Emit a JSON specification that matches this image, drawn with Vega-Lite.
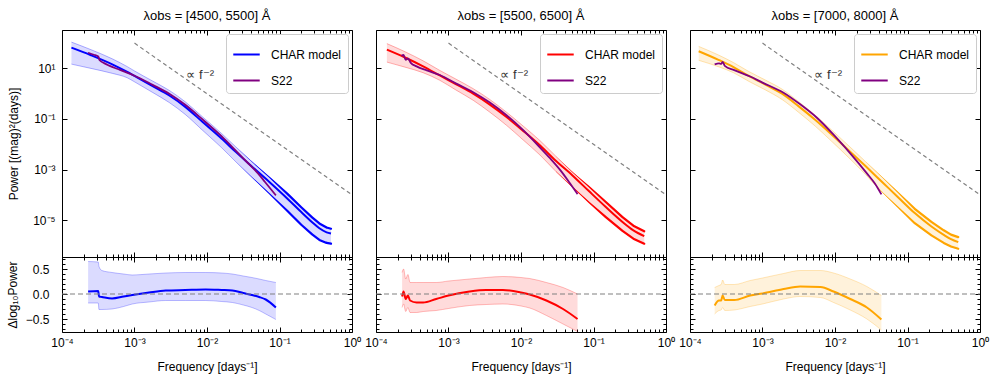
{
"$schema": "https://vega.github.io/schema/vega-lite/v6.json",
"background": "white",
"padding": {"left": 5, "top": 9, "right": 5, "bottom": 5},
"datasets": {
"m1": [
{"f":1.349e-4,"c":66.07,"hi":109.6,"lo":14.79},
{"f":2.512e-4,"c":33.11,"hi":54.95,"lo":10.0},
{"f":5.012e-4,"c":14.13,"hi":23.44,"lo":6.31},
{"f":7.943e-4,"c":7.244,"hi":11.75,"lo":4.266},
{"f":1e-3,"c":5.012,"hi":7.943,"lo":2.951},
{"f":1.778e-3,"c":1.995,"hi":3.162,"lo":1.122},
{"f":3.02e-3,"c":0.8511,"hi":1.349,"lo":0.4467},
{"f":5.012e-3,"c":0.302,"hi":0.4786,"lo":0.1514},
{"f":8.71e-3,"c":0.07586,"hi":0.1202,"lo":0.03548},
{"f":0.01585,"c":0.01698,"hi":0.02692,"lo":0.007413},
{"f":0.02512,"c":0.004898,"hi":0.007762,"lo":0.001995},
{"f":0.03981,"c":0.001479,"hi":0.002291,"lo":5.623e-4},
{"f":0.07244,"c":3.236e-4,"hi":5.012e-4,"lo":1.122e-4},
{"f":0.1288,"c":7.079e-5,"hi":1.096e-4,"lo":2.291e-5},
{"f":0.1995,"c":2.089e-5,"hi":3.236e-5,"lo":6.607e-6},
{"f":0.2818,"c":8.318e-6,"hi":1.288e-5,"lo":2.754e-6},
{"f":0.3548,"c":4.786e-6,"hi":7.413e-6,"lo":1.66e-6},
{"f":0.4467,"c":3.311e-6,"hi":5.129e-6,"lo":1.259e-6},
{"f":0.5129,"c":2.951e-6,"hi":4.571e-6,"lo":1.175e-6}
],
"s1": [
{"f":2.291e-4,"p":41.69},{"f":2.754e-4,"p":34.67},{"f":3.162e-4,"p":29.51},{"f":3.311e-4,"p":20.89},
{"f":3.802e-4,"p":16.22},{"f":4.467e-4,"p":12.88},{"f":6.31e-4,"p":8.71},{"f":1e-3,"p":5.129},
{"f":1.778e-3,"p":2.239},{"f":3.02e-3,"p":1.0},{"f":5.012e-3,"p":0.3631},{"f":8.71e-3,"p":0.0955},
{"f":0.01585,"p":0.02089},{"f":0.02512,"p":0.005495},{"f":0.03548,"p":0.001995},{"f":0.05012,"p":7.244e-4},
{"f":0.0631,"p":3.236e-4},{"f":0.08913,"p":9.55e-5}
],
"r1": [
{"f":2.291e-4,"d":0.05,"hi":0.65,"lo":-0.18},
{"f":3.162e-4,"d":0.06,"hi":0.64,"lo":-0.18},
{"f":3.236e-4,"d":-0.05,"hi":0.55,"lo":-0.31},
{"f":3.548e-4,"d":-0.06,"hi":0.47,"lo":-0.31},
{"f":4.898e-4,"d":-0.09,"hi":0.43,"lo":-0.30},
{"f":7.079e-4,"d":-0.05,"hi":0.40,"lo":-0.25},
{"f":9.333e-4,"d":-0.02,"hi":0.38,"lo":-0.20},
{"f":1.585e-3,"d":0.03,"hi":0.40,"lo":-0.16},
{"f":2.692e-3,"d":0.07,"hi":0.42,"lo":-0.13},
{"f":5.012e-3,"d":0.08,"hi":0.43,"lo":-0.13},
{"f":9.55e-3,"d":0.09,"hi":0.43,"lo":-0.13},
{"f":0.01585,"d":0.08,"hi":0.42,"lo":-0.15},
{"f":0.02239,"d":0.07,"hi":0.40,"lo":-0.17},
{"f":0.03162,"d":0.02,"hi":0.36,"lo":-0.22},
{"f":0.04169,"d":-0.02,"hi":0.33,"lo":-0.27},
{"f":0.05248,"d":-0.06,"hi":0.30,"lo":-0.33},
{"f":0.06457,"d":-0.11,"hi":0.27,"lo":-0.40},
{"f":0.08913,"d":-0.27,"hi":0.23,"lo":-0.51}
],
"m2": [
{"f":1.413e-4,"c":54.95,"hi":95.5,"lo":17.78},
{"f":2.512e-4,"c":26.92,"hi":45.71,"lo":11.22},
{"f":4.467e-4,"c":12.02,"hi":19.95,"lo":6.761},
{"f":7.586e-4,"c":5.248,"hi":8.318,"lo":3.388},
{"f":1.259e-3,"c":2.399,"hi":3.802,"lo":1.413},
{"f":2.188e-3,"c":1.0,"hi":1.585,"lo":0.5495},
{"f":3.715e-3,"c":0.3715,"hi":0.5888,"lo":0.1862},
{"f":6.31e-3,"c":0.1202,"hi":0.1862,"lo":0.05623},
{"f":0.01072,"c":0.03388,"hi":0.05248,"lo":0.01479},
{"f":0.0182,"c":0.00912,"hi":0.01413,"lo":0.003802},
{"f":0.0302,"c":0.002239,"hi":0.003388,"lo":8.511e-4},
{"f":0.05129,"c":5.888e-4,"hi":7.943e-4,"lo":2.042e-4},
{"f":0.0871,"c":1.38e-4,"hi":2.089e-4,"lo":5.012e-5},
{"f":0.1479,"c":3.311e-5,"hi":5.248e-5,"lo":1.318e-5},
{"f":0.2512,"c":8.511e-6,"hi":1.318e-5,"lo":3.802e-6},
{"f":0.3548,"c":3.981e-6,"hi":6.026e-6,"lo":1.862e-6},
{"f":0.5012,"c":2.344e-6,"hi":3.631e-6,"lo":1.175e-6}
],
"s2": [
{"f":2.239e-4,"p":31.62},{"f":2.399e-4,"p":33.88},{"f":2.57e-4,"p":21.88},{"f":2.754e-4,"p":25.12},
{"f":3.02e-4,"p":16.6},{"f":3.631e-4,"p":12.02},{"f":5.012e-4,"p":8.318},{"f":7.586e-4,"p":5.495},
{"f":1.259e-3,"p":2.57},{"f":2.188e-3,"p":1.148},{"f":3.715e-3,"p":0.4467},{"f":6.31e-3,"p":0.1413},
{"f":0.01072,"p":0.03631},{"f":0.0182,"p":0.007586},{"f":0.02512,"p":0.002818},{"f":0.03548,"p":8.913e-4},
{"f":0.04677,"p":3.02e-4},{"f":0.06026,"p":1.072e-4}
],
"r2": [
{"f":2.291e-4,"d":-0.05,"hi":0.43,"lo":-0.27},
{"f":2.399e-4,"d":0.05,"hi":0.50,"lo":-0.20},
{"f":2.57e-4,"d":-0.10,"hi":0.30,"lo":-0.35},
{"f":2.754e-4,"d":-0.03,"hi":0.39,"lo":-0.27},
{"f":2.951e-4,"d":-0.13,"hi":0.23,"lo":-0.37},
{"f":3.631e-4,"d":-0.17,"hi":0.23,"lo":-0.37},
{"f":4.467e-4,"d":-0.17,"hi":0.23,"lo":-0.35},
{"f":6.761e-4,"d":-0.10,"hi":0.23,"lo":-0.33},
{"f":1e-3,"d":-0.03,"hi":0.26,"lo":-0.29},
{"f":1.95e-3,"d":0.05,"hi":0.30,"lo":-0.23},
{"f":3.311e-3,"d":0.08,"hi":0.33,"lo":-0.21},
{"f":5.623e-3,"d":0.08,"hi":0.35,"lo":-0.20},
{"f":0.01,"d":0.03,"hi":0.33,"lo":-0.24},
{"f":0.01318,"d":-0.01,"hi":0.31,"lo":-0.28},
{"f":0.02239,"d":-0.13,"hi":0.23,"lo":-0.43},
{"f":0.03802,"d":-0.30,"hi":0.13,"lo":-0.60},
{"f":0.06026,"d":-0.50,"hi":0.0,"lo":-0.75}
],
"m3": [
{"f":1.318e-4,"c":47.86,"hi":74.13,"lo":20.89},
{"f":2.512e-4,"c":21.38,"hi":33.11,"lo":11.48},
{"f":3.981e-4,"c":11.22,"hi":16.98,"lo":6.761},
{"f":6.457e-4,"c":5.012,"hi":7.586,"lo":3.09},
{"f":1.096e-3,"c":2.291,"hi":3.467,"lo":1.413},
{"f":1.862e-3,"c":1.0,"hi":1.514,"lo":0.5888},
{"f":3.162e-3,"c":0.3162,"hi":0.4786,"lo":0.182},
{"f":5.37e-3,"c":0.0912,"hi":0.138,"lo":0.05129},
{"f":9.12e-3,"c":0.02344,"hi":0.03548,"lo":0.01259},
{"f":0.01549,"c":0.005754,"hi":0.00871,"lo":0.002951},
{"f":0.0263,"c":0.00138,"hi":0.002089,"lo":6.457e-4},
{"f":0.04467,"c":3.236e-4,"hi":5.012e-4,"lo":1.288e-4},
{"f":0.07586,"c":7.586e-5,"hi":1.175e-4,"lo":3.02e-5},
{"f":0.1259,"c":1.905e-5,"hi":2.818e-5,"lo":7.586e-6},
{"f":0.2138,"c":5.623e-6,"hi":8.511e-6,"lo":2.512e-6},
{"f":0.3162,"c":2.63e-6,"hi":3.981e-6,"lo":1.259e-6},
{"f":0.3981,"c":1.778e-6,"hi":2.692e-6,"lo":9.12e-7},
{"f":0.5012,"c":1.349e-6,"hi":2.138e-6,"lo":7.413e-7}
],
"s3": [
{"f":2.188e-4,"p":14.45},{"f":2.512e-4,"p":15.85},{"f":2.692e-4,"p":15.14},{"f":2.818e-4,"p":18.2},
{"f":3.02e-4,"p":12.59},{"f":4.074e-4,"p":8.511},{"f":6.761e-4,"p":4.786},{"f":1e-3,"p":2.754},
{"f":1.95e-3,"p":1.096},{"f":3.311e-3,"p":0.3802},{"f":5.623e-3,"p":0.1122},{"f":9.55e-3,"p":0.02399},
{"f":0.01622,"p":0.004365},{"f":0.02754,"p":7.079e-4},{"f":0.03548,"p":2.818e-4},{"f":0.04365,"p":1.047e-4}
],
"r3": [
{"f":2.188e-4,"d":-0.23,"hi":0.13,"lo":-0.40},
{"f":2.512e-4,"d":-0.13,"hi":0.17,"lo":-0.33},
{"f":2.692e-4,"d":-0.13,"hi":0.19,"lo":-0.32},
{"f":2.818e-4,"d":-0.03,"hi":0.28,"lo":-0.27},
{"f":3.02e-4,"d":-0.12,"hi":0.19,"lo":-0.33},
{"f":4.074e-4,"d":-0.12,"hi":0.19,"lo":-0.32},
{"f":6.761e-4,"d":-0.03,"hi":0.27,"lo":-0.25},
{"f":1e-3,"d":0.01,"hi":0.32,"lo":-0.20},
{"f":1.95e-3,"d":0.10,"hi":0.41,"lo":-0.10},
{"f":3.311e-3,"d":0.15,"hi":0.47,"lo":-0.05},
{"f":6.31e-3,"d":0.14,"hi":0.47,"lo":-0.07},
{"f":9.55e-3,"d":0.05,"hi":0.42,"lo":-0.17},
{"f":0.01622,"d":-0.10,"hi":0.30,"lo":-0.32},
{"f":0.02754,"d":-0.27,"hi":0.15,"lo":-0.50},
{"f":0.04365,"d":-0.51,"hi":-0.03,"lo":-0.72}
],
"pl": [{"f":0.001,"p":100},{"f":1,"p":0.0001}],
"lbl": [{"f":0.0052,"p":5.5,"t":"∝ f⁻²"}],
"zero": [{"v":0}]
},
"columns": 3,
"spacing": {"row": 0, "column": 24},
"bounds": "flush",
"resolve": {"scale": {"color": "independent"}},
"concat": [
{"width":290,"height":227,
 "title":{"text":"λobs = [4500,  5500] Å"},
 "resolve":{"axis":{"x":"independent","y":"independent"}},
 "layer":[
  {"data":{"name":"m1"},"mark":{"type":"area","color":"#0000ff","opacity":0.14},
   "encoding":{"x":{"field":"f","type":"quantitative","scale":{"type":"log","domain":[0.0001,1],"nice":false},"axis":{"orient":"bottom","values":[0.0001,0.001,0.01,0.1,1],"tickSize":-5,"labels":false,"title":null}},
   "y":{"field":"lo","type":"quantitative","scale":{"type":"log","domain":[3.5e-7,330],"nice":false},"axis":{"orient":"left","values":[10,0.1,0.001,0.00001],"ticks":false,"labelExpr":"datum.value > 1 ? '10¹' : datum.value > 0.01 ? '10⁻¹' : datum.value > 0.0001 ? '10⁻³' : '10⁻⁵'","labelPadding":7,"title":"Power [(mag)²(days)]","titlePadding":12}},
   "y2":{"field":"hi"}}},
  {"data":{"name":"m1"},"mark":{"type":"line","color":"#0000ff","opacity":0.3,"strokeWidth":1},
   "encoding":{"x":{"field":"f","type":"quantitative","scale":{"type":"log","domain":[0.0001,1],"nice":false},"axis":{"orient":"top","values":[0.0001,0.001,0.01,0.1,1],"tickSize":-5,"labels":false,"title":null}},
   "y":{"field":"hi","type":"quantitative","scale":{"type":"log","domain":[3.5e-7,330],"nice":false},"axis":{"orient":"left","values":[10,0.1,0.001,0.00001],"tickSize":-5,"labels":false,"title":null}}}},
  {"data":{"name":"m1"},"mark":{"type":"line","color":"#0000ff","opacity":0.3,"strokeWidth":1},
   "encoding":{"x":{"field":"f","type":"quantitative","scale":{"type":"log","domain":[0.0001,1],"nice":false},"axis":{"orient":"bottom","values":[0.0002,0.0003,0.0004,0.0005,0.0006,0.0007,0.0008,0.0009,0.002,0.003,0.004,0.005,0.006,0.007,0.008,0.009,0.02,0.03,0.04,0.05,0.06,0.07,0.08,0.09,0.2,0.3,0.4,0.5,0.6,0.7,0.8,0.9],"tickSize":-3,"labels":false,"title":null}},
   "y":{"field":"lo","type":"quantitative","scale":{"type":"log","domain":[3.5e-7,330],"nice":false},"axis":{"orient":"right","values":[10,0.1,0.001,0.00001],"tickSize":-5,"labels":false,"title":null}}}},
  {"data":{"name":"m1"},"transform":[{"filter":"datum.f >= 0.025"}],"mark":{"type":"trail","color":"#0000ff"},
   "encoding":{"x":{"field":"f","type":"quantitative","scale":{"type":"log","domain":[0.0001,1],"nice":false},"axis":{"orient":"top","values":[0.0002,0.0003,0.0004,0.0005,0.0006,0.0007,0.0008,0.0009,0.002,0.003,0.004,0.005,0.006,0.007,0.008,0.009,0.02,0.03,0.04,0.05,0.06,0.07,0.08,0.09,0.2,0.3,0.4,0.5,0.6,0.7,0.8,0.9],"tickSize":-3,"labels":false,"title":null}},
   "y":{"field":"hi","type":"quantitative","scale":{"type":"log","domain":[3.5e-7,330],"nice":false},"axis":null},
   "size":{"field":"f","type":"quantitative","scale":{"type":"linear","domain":[0.025,0.12],"range":[0,2.2],"clamp":true,"zero":false,"nice":false},"legend":null}}},
  {"data":{"name":"m1"},"transform":[{"filter":"datum.f >= 0.025"}],"mark":{"type":"trail","color":"#0000ff"},
   "encoding":{"x":{"field":"f","type":"quantitative","scale":{"type":"log","domain":[0.0001,1],"nice":false},"axis":null},
   "y":{"field":"lo","type":"quantitative","scale":{"type":"log","domain":[3.5e-7,330],"nice":false},"axis":null},
   "size":{"field":"f","type":"quantitative","scale":{"type":"linear","domain":[0.025,0.12],"range":[0,2.2],"clamp":true,"zero":false,"nice":false},"legend":null}}},
  {"data":{"name":"m1"},"mark":{"type":"line","strokeWidth":2},
   "encoding":{"x":{"field":"f","type":"quantitative","scale":{"type":"log","domain":[0.0001,1],"nice":false},"axis":null},
   "y":{"field":"c","type":"quantitative","scale":{"type":"log","domain":[3.5e-7,330],"nice":false},"axis":null},
   "color":{"datum":"CHAR model","type":"nominal","scale":{"domain":["CHAR model","S22"],"range":["#0000ff","#800080"]},"legend":{"title":null,"orient":"top-right","offset":4,"symbolType":"stroke","symbolSize":700,"symbolStrokeWidth":2,"labelFontSize":12,"labelColor":"black","padding":6,"rowPadding":5,"labelOffset":10,"fillColor":"white","strokeColor":"#cccccc","cornerRadius":3}}}},
  {"data":{"name":"s1"},"mark":{"type":"line","strokeWidth":1.8},
   "encoding":{"x":{"field":"f","type":"quantitative","scale":{"type":"log","domain":[0.0001,1],"nice":false},"axis":null},
   "y":{"field":"p","type":"quantitative","scale":{"type":"log","domain":[3.5e-7,330],"nice":false},"axis":null},
   "color":{"datum":"S22","type":"nominal","scale":{"domain":["CHAR model","S22"],"range":["#0000ff","#800080"]},"legend":{"title":null,"orient":"top-right","offset":4,"symbolType":"stroke","symbolSize":700,"symbolStrokeWidth":2,"labelFontSize":12,"labelColor":"black","padding":6,"rowPadding":5,"labelOffset":10,"fillColor":"white","strokeColor":"#cccccc","cornerRadius":3}}}},
  {"data":{"name":"pl"},"mark":{"type":"line","color":"#808080","strokeWidth":1.2,"strokeDash":[4,3],"interpolate":"linear"},
   "encoding":{"x":{"field":"f","type":"quantitative","scale":{"type":"log","domain":[0.0001,1],"nice":false},"axis":null},
   "y":{"field":"p","type":"quantitative","scale":{"type":"log","domain":[3.5e-7,330],"nice":false},"axis":null}}},
  {"data":{"name":"lbl"},"mark":{"type":"text","align":"left","baseline":"middle","fontSize":13,"color":"#333333"},
   "encoding":{"x":{"field":"f","type":"quantitative","scale":{"type":"log","domain":[0.0001,1],"nice":false},"axis":null},
   "y":{"field":"p","type":"quantitative","scale":{"type":"log","domain":[3.5e-7,330],"nice":false},"axis":null},
   "text":{"field":"t"}}}
 ]},
{"width":290,"height":227,
 "title":{"text":"λobs = [5500,  6500] Å"},
 "resolve":{"axis":{"x":"independent","y":"independent"}},
 "layer":[
  {"data":{"name":"m2"},"mark":{"type":"area","color":"#ff0000","opacity":0.14},
   "encoding":{"x":{"field":"f","type":"quantitative","scale":{"type":"log","domain":[0.0001,1],"nice":false},"axis":{"orient":"bottom","values":[0.0001,0.001,0.01,0.1,1],"tickSize":-5,"labels":false,"title":null}},
   "y":{"field":"lo","type":"quantitative","scale":{"type":"log","domain":[3.5e-7,330],"nice":false},"axis":{"orient":"left","values":[10,0.1,0.001,0.00001],"tickSize":-5,"labels":false,"title":null}},
   "y2":{"field":"hi"}}},
  {"data":{"name":"m2"},"mark":{"type":"line","color":"#ff0000","opacity":0.3,"strokeWidth":1},
   "encoding":{"x":{"field":"f","type":"quantitative","scale":{"type":"log","domain":[0.0001,1],"nice":false},"axis":{"orient":"top","values":[0.0001,0.001,0.01,0.1,1],"tickSize":-5,"labels":false,"title":null}},
   "y":{"field":"hi","type":"quantitative","scale":{"type":"log","domain":[3.5e-7,330],"nice":false},"axis":{"orient":"right","values":[10,0.1,0.001,0.00001],"tickSize":-5,"labels":false,"title":null}}}},
  {"data":{"name":"m2"},"mark":{"type":"line","color":"#ff0000","opacity":0.3,"strokeWidth":1},
   "encoding":{"x":{"field":"f","type":"quantitative","scale":{"type":"log","domain":[0.0001,1],"nice":false},"axis":{"orient":"bottom","values":[0.0002,0.0003,0.0004,0.0005,0.0006,0.0007,0.0008,0.0009,0.002,0.003,0.004,0.005,0.006,0.007,0.008,0.009,0.02,0.03,0.04,0.05,0.06,0.07,0.08,0.09,0.2,0.3,0.4,0.5,0.6,0.7,0.8,0.9],"tickSize":-3,"labels":false,"title":null}},
   "y":{"field":"lo","type":"quantitative","scale":{"type":"log","domain":[3.5e-7,330],"nice":false},"axis":null}}},
  {"data":{"name":"m2"},"transform":[{"filter":"datum.f >= 0.025"}],"mark":{"type":"trail","color":"#ff0000"},
   "encoding":{"x":{"field":"f","type":"quantitative","scale":{"type":"log","domain":[0.0001,1],"nice":false},"axis":{"orient":"top","values":[0.0002,0.0003,0.0004,0.0005,0.0006,0.0007,0.0008,0.0009,0.002,0.003,0.004,0.005,0.006,0.007,0.008,0.009,0.02,0.03,0.04,0.05,0.06,0.07,0.08,0.09,0.2,0.3,0.4,0.5,0.6,0.7,0.8,0.9],"tickSize":-3,"labels":false,"title":null}},
   "y":{"field":"hi","type":"quantitative","scale":{"type":"log","domain":[3.5e-7,330],"nice":false},"axis":null},
   "size":{"field":"f","type":"quantitative","scale":{"type":"linear","domain":[0.025,0.12],"range":[0,2.2],"clamp":true,"zero":false,"nice":false},"legend":null}}},
  {"data":{"name":"m2"},"transform":[{"filter":"datum.f >= 0.025"}],"mark":{"type":"trail","color":"#ff0000"},
   "encoding":{"x":{"field":"f","type":"quantitative","scale":{"type":"log","domain":[0.0001,1],"nice":false},"axis":null},
   "y":{"field":"lo","type":"quantitative","scale":{"type":"log","domain":[3.5e-7,330],"nice":false},"axis":null},
   "size":{"field":"f","type":"quantitative","scale":{"type":"linear","domain":[0.025,0.12],"range":[0,2.2],"clamp":true,"zero":false,"nice":false},"legend":null}}},
  {"data":{"name":"m2"},"mark":{"type":"line","strokeWidth":2},
   "encoding":{"x":{"field":"f","type":"quantitative","scale":{"type":"log","domain":[0.0001,1],"nice":false},"axis":null},
   "y":{"field":"c","type":"quantitative","scale":{"type":"log","domain":[3.5e-7,330],"nice":false},"axis":null},
   "color":{"datum":"CHAR model","type":"nominal","scale":{"domain":["CHAR model","S22"],"range":["#ff0000","#800080"]},"legend":{"title":null,"orient":"top-right","offset":4,"symbolType":"stroke","symbolSize":700,"symbolStrokeWidth":2,"labelFontSize":12,"labelColor":"black","padding":6,"rowPadding":5,"labelOffset":10,"fillColor":"white","strokeColor":"#cccccc","cornerRadius":3}}}},
  {"data":{"name":"s2"},"mark":{"type":"line","strokeWidth":1.8},
   "encoding":{"x":{"field":"f","type":"quantitative","scale":{"type":"log","domain":[0.0001,1],"nice":false},"axis":null},
   "y":{"field":"p","type":"quantitative","scale":{"type":"log","domain":[3.5e-7,330],"nice":false},"axis":null},
   "color":{"datum":"S22","type":"nominal","scale":{"domain":["CHAR model","S22"],"range":["#ff0000","#800080"]},"legend":{"title":null,"orient":"top-right","offset":4,"symbolType":"stroke","symbolSize":700,"symbolStrokeWidth":2,"labelFontSize":12,"labelColor":"black","padding":6,"rowPadding":5,"labelOffset":10,"fillColor":"white","strokeColor":"#cccccc","cornerRadius":3}}}},
  {"data":{"name":"pl"},"mark":{"type":"line","color":"#808080","strokeWidth":1.2,"strokeDash":[4,3],"interpolate":"linear"},
   "encoding":{"x":{"field":"f","type":"quantitative","scale":{"type":"log","domain":[0.0001,1],"nice":false},"axis":null},
   "y":{"field":"p","type":"quantitative","scale":{"type":"log","domain":[3.5e-7,330],"nice":false},"axis":null}}},
  {"data":{"name":"lbl"},"mark":{"type":"text","align":"left","baseline":"middle","fontSize":13,"color":"#333333"},
   "encoding":{"x":{"field":"f","type":"quantitative","scale":{"type":"log","domain":[0.0001,1],"nice":false},"axis":null},
   "y":{"field":"p","type":"quantitative","scale":{"type":"log","domain":[3.5e-7,330],"nice":false},"axis":null},
   "text":{"field":"t"}}}
 ]},
{"width":290,"height":227,
 "title":{"text":"λobs = [7000,  8000] Å"},
 "resolve":{"axis":{"x":"independent","y":"independent"}},
 "layer":[
  {"data":{"name":"m3"},"mark":{"type":"area","color":"#ffa500","opacity":0.14},
   "encoding":{"x":{"field":"f","type":"quantitative","scale":{"type":"log","domain":[0.0001,1],"nice":false},"axis":{"orient":"bottom","values":[0.0001,0.001,0.01,0.1,1],"tickSize":-5,"labels":false,"title":null}},
   "y":{"field":"lo","type":"quantitative","scale":{"type":"log","domain":[3.5e-7,330],"nice":false},"axis":{"orient":"left","values":[10,0.1,0.001,0.00001],"tickSize":-5,"labels":false,"title":null}},
   "y2":{"field":"hi"}}},
  {"data":{"name":"m3"},"mark":{"type":"line","color":"#ffa500","opacity":0.3,"strokeWidth":1},
   "encoding":{"x":{"field":"f","type":"quantitative","scale":{"type":"log","domain":[0.0001,1],"nice":false},"axis":{"orient":"top","values":[0.0001,0.001,0.01,0.1,1],"tickSize":-5,"labels":false,"title":null}},
   "y":{"field":"hi","type":"quantitative","scale":{"type":"log","domain":[3.5e-7,330],"nice":false},"axis":{"orient":"right","values":[10,0.1,0.001,0.00001],"tickSize":-5,"labels":false,"title":null}}}},
  {"data":{"name":"m3"},"mark":{"type":"line","color":"#ffa500","opacity":0.3,"strokeWidth":1},
   "encoding":{"x":{"field":"f","type":"quantitative","scale":{"type":"log","domain":[0.0001,1],"nice":false},"axis":{"orient":"bottom","values":[0.0002,0.0003,0.0004,0.0005,0.0006,0.0007,0.0008,0.0009,0.002,0.003,0.004,0.005,0.006,0.007,0.008,0.009,0.02,0.03,0.04,0.05,0.06,0.07,0.08,0.09,0.2,0.3,0.4,0.5,0.6,0.7,0.8,0.9],"tickSize":-3,"labels":false,"title":null}},
   "y":{"field":"lo","type":"quantitative","scale":{"type":"log","domain":[3.5e-7,330],"nice":false},"axis":null}}},
  {"data":{"name":"m3"},"transform":[{"filter":"datum.f >= 0.025"}],"mark":{"type":"trail","color":"#ffa500"},
   "encoding":{"x":{"field":"f","type":"quantitative","scale":{"type":"log","domain":[0.0001,1],"nice":false},"axis":{"orient":"top","values":[0.0002,0.0003,0.0004,0.0005,0.0006,0.0007,0.0008,0.0009,0.002,0.003,0.004,0.005,0.006,0.007,0.008,0.009,0.02,0.03,0.04,0.05,0.06,0.07,0.08,0.09,0.2,0.3,0.4,0.5,0.6,0.7,0.8,0.9],"tickSize":-3,"labels":false,"title":null}},
   "y":{"field":"hi","type":"quantitative","scale":{"type":"log","domain":[3.5e-7,330],"nice":false},"axis":null},
   "size":{"field":"f","type":"quantitative","scale":{"type":"linear","domain":[0.025,0.12],"range":[0,2.2],"clamp":true,"zero":false,"nice":false},"legend":null}}},
  {"data":{"name":"m3"},"transform":[{"filter":"datum.f >= 0.025"}],"mark":{"type":"trail","color":"#ffa500"},
   "encoding":{"x":{"field":"f","type":"quantitative","scale":{"type":"log","domain":[0.0001,1],"nice":false},"axis":null},
   "y":{"field":"lo","type":"quantitative","scale":{"type":"log","domain":[3.5e-7,330],"nice":false},"axis":null},
   "size":{"field":"f","type":"quantitative","scale":{"type":"linear","domain":[0.025,0.12],"range":[0,2.2],"clamp":true,"zero":false,"nice":false},"legend":null}}},
  {"data":{"name":"m3"},"mark":{"type":"line","strokeWidth":2},
   "encoding":{"x":{"field":"f","type":"quantitative","scale":{"type":"log","domain":[0.0001,1],"nice":false},"axis":null},
   "y":{"field":"c","type":"quantitative","scale":{"type":"log","domain":[3.5e-7,330],"nice":false},"axis":null},
   "color":{"datum":"CHAR model","type":"nominal","scale":{"domain":["CHAR model","S22"],"range":["#ffa500","#800080"]},"legend":{"title":null,"orient":"top-right","offset":4,"symbolType":"stroke","symbolSize":700,"symbolStrokeWidth":2,"labelFontSize":12,"labelColor":"black","padding":6,"rowPadding":5,"labelOffset":10,"fillColor":"white","strokeColor":"#cccccc","cornerRadius":3}}}},
  {"data":{"name":"s3"},"mark":{"type":"line","strokeWidth":1.8},
   "encoding":{"x":{"field":"f","type":"quantitative","scale":{"type":"log","domain":[0.0001,1],"nice":false},"axis":null},
   "y":{"field":"p","type":"quantitative","scale":{"type":"log","domain":[3.5e-7,330],"nice":false},"axis":null},
   "color":{"datum":"S22","type":"nominal","scale":{"domain":["CHAR model","S22"],"range":["#ffa500","#800080"]},"legend":{"title":null,"orient":"top-right","offset":4,"symbolType":"stroke","symbolSize":700,"symbolStrokeWidth":2,"labelFontSize":12,"labelColor":"black","padding":6,"rowPadding":5,"labelOffset":10,"fillColor":"white","strokeColor":"#cccccc","cornerRadius":3}}}},
  {"data":{"name":"pl"},"mark":{"type":"line","color":"#808080","strokeWidth":1.2,"strokeDash":[4,3],"interpolate":"linear"},
   "encoding":{"x":{"field":"f","type":"quantitative","scale":{"type":"log","domain":[0.0001,1],"nice":false},"axis":null},
   "y":{"field":"p","type":"quantitative","scale":{"type":"log","domain":[3.5e-7,330],"nice":false},"axis":null}}},
  {"data":{"name":"lbl"},"mark":{"type":"text","align":"left","baseline":"middle","fontSize":13,"color":"#333333"},
   "encoding":{"x":{"field":"f","type":"quantitative","scale":{"type":"log","domain":[0.0001,1],"nice":false},"axis":null},
   "y":{"field":"p","type":"quantitative","scale":{"type":"log","domain":[3.5e-7,330],"nice":false},"axis":null},
   "text":{"field":"t"}}}
 ]},
{"width":290,"height":75,
 "resolve":{"axis":{"x":"independent","y":"independent"}},
 "layer":[
  {"data":{"name":"r1"},"mark":{"type":"area","color":"#0000ff","opacity":0.14},
   "encoding":{"x":{"field":"f","type":"quantitative","scale":{"type":"log","domain":[0.0001,1],"nice":false},"axis":{"orient":"bottom","values":[0.0001,0.001,0.01,0.1,1],"ticks":false,"labelExpr":"datum.value < 0.00015 ? '10⁻⁴' : datum.value < 0.0015 ? '10⁻³' : datum.value < 0.015 ? '10⁻²' : datum.value < 0.15 ? '10⁻¹' : '10⁰'","labelPadding":5,"title":"Frequency [days⁻¹]","titlePadding":13}},
   "y":{"field":"lo","type":"quantitative","scale":{"domain":[-0.76,0.74],"nice":false,"zero":false},"axis":{"orient":"left","values":[-0.5,0,0.5],"ticks":false,"format":".1f","labelPadding":13,"title":"Δlog₁₀Power","titlePadding":6}},
   "y2":{"field":"hi"}}},
  {"data":{"name":"r1"},"mark":{"type":"line","color":"#0000ff","opacity":0.25,"strokeWidth":1},
   "encoding":{"x":{"field":"f","type":"quantitative","scale":{"type":"log","domain":[0.0001,1],"nice":false},"axis":{"orient":"bottom","values":[0.0001,0.001,0.01,0.1,1],"tickSize":-5,"labels":false,"title":null}},
   "y":{"field":"hi","type":"quantitative","scale":{"domain":[-0.76,0.74],"nice":false,"zero":false},"axis":{"orient":"left","values":[-0.5,0,0.5],"tickSize":-5,"labels":false,"title":null}}}},
  {"data":{"name":"r1"},"mark":{"type":"line","color":"#0000ff","opacity":0.25,"strokeWidth":1},
   "encoding":{"x":{"field":"f","type":"quantitative","scale":{"type":"log","domain":[0.0001,1],"nice":false},"axis":{"orient":"top","values":[0.0001,0.001,0.01,0.1,1],"tickSize":-5,"labels":false,"title":null}},
   "y":{"field":"lo","type":"quantitative","scale":{"domain":[-0.76,0.74],"nice":false,"zero":false},"axis":{"orient":"right","values":[-0.5,0,0.5],"tickSize":-5,"labels":false,"title":null}}}},
  {"data":{"name":"r1"},"mark":{"type":"line","color":"#0000ff","strokeWidth":2},
   "encoding":{"x":{"field":"f","type":"quantitative","scale":{"type":"log","domain":[0.0001,1],"nice":false},"axis":{"orient":"bottom","values":[0.0002,0.0003,0.0004,0.0005,0.0006,0.0007,0.0008,0.0009,0.002,0.003,0.004,0.005,0.006,0.007,0.008,0.009,0.02,0.03,0.04,0.05,0.06,0.07,0.08,0.09,0.2,0.3,0.4,0.5,0.6,0.7,0.8,0.9],"tickSize":-3,"labels":false,"title":null}},
   "y":{"field":"d","type":"quantitative","scale":{"domain":[-0.76,0.74],"nice":false,"zero":false},"axis":{"orient":"left","values":[-0.7,-0.6,-0.4,-0.3,-0.2,-0.1,0.1,0.2,0.3,0.4,0.6,0.7],"tickSize":-3,"labels":false,"title":null}}}},
  {"data":{"name":"zero"},"mark":{"type":"rule","color":"#808080","strokeWidth":1.2,"strokeDash":[5,3]},
   "encoding":{"x":{"datum":0.0001,"type":"quantitative","scale":{"type":"log","domain":[0.0001,1],"nice":false},"axis":{"orient":"top","values":[0.0002,0.0003,0.0004,0.0005,0.0006,0.0007,0.0008,0.0009,0.002,0.003,0.004,0.005,0.006,0.007,0.008,0.009,0.02,0.03,0.04,0.05,0.06,0.07,0.08,0.09,0.2,0.3,0.4,0.5,0.6,0.7,0.8,0.9],"tickSize":-3,"labels":false,"title":null}},
   "x2":{"datum":1},
   "y":{"field":"v","type":"quantitative","scale":{"domain":[-0.76,0.74],"nice":false,"zero":false},"axis":{"orient":"right","values":[-0.7,-0.6,-0.4,-0.3,-0.2,-0.1,0.1,0.2,0.3,0.4,0.6,0.7],"tickSize":-3,"labels":false,"title":null}}}}
 ]},
{"width":290,"height":75,
 "resolve":{"axis":{"x":"independent","y":"independent"}},
 "layer":[
  {"data":{"name":"r2"},"mark":{"type":"area","color":"#ff0000","opacity":0.14},
   "encoding":{"x":{"field":"f","type":"quantitative","scale":{"type":"log","domain":[0.0001,1],"nice":false},"axis":{"orient":"bottom","values":[0.0001,0.001,0.01,0.1,1],"ticks":false,"labelExpr":"datum.value < 0.00015 ? '10⁻⁴' : datum.value < 0.0015 ? '10⁻³' : datum.value < 0.015 ? '10⁻²' : datum.value < 0.15 ? '10⁻¹' : '10⁰'","labelPadding":5,"title":"Frequency [days⁻¹]","titlePadding":13}},
   "y":{"field":"lo","type":"quantitative","scale":{"domain":[-0.76,0.74],"nice":false,"zero":false},"axis":{"orient":"left","values":[-0.5,0,0.5],"tickSize":-5,"labels":false,"title":null}},
   "y2":{"field":"hi"}}},
  {"data":{"name":"r2"},"mark":{"type":"line","color":"#ff0000","opacity":0.25,"strokeWidth":1},
   "encoding":{"x":{"field":"f","type":"quantitative","scale":{"type":"log","domain":[0.0001,1],"nice":false},"axis":{"orient":"bottom","values":[0.0001,0.001,0.01,0.1,1],"tickSize":-5,"labels":false,"title":null}},
   "y":{"field":"hi","type":"quantitative","scale":{"domain":[-0.76,0.74],"nice":false,"zero":false},"axis":{"orient":"right","values":[-0.5,0,0.5],"tickSize":-5,"labels":false,"title":null}}}},
  {"data":{"name":"r2"},"mark":{"type":"line","color":"#ff0000","opacity":0.25,"strokeWidth":1},
   "encoding":{"x":{"field":"f","type":"quantitative","scale":{"type":"log","domain":[0.0001,1],"nice":false},"axis":{"orient":"top","values":[0.0001,0.001,0.01,0.1,1],"tickSize":-5,"labels":false,"title":null}},
   "y":{"field":"lo","type":"quantitative","scale":{"domain":[-0.76,0.74],"nice":false,"zero":false},"axis":{"orient":"left","values":[-0.7,-0.6,-0.4,-0.3,-0.2,-0.1,0.1,0.2,0.3,0.4,0.6,0.7],"tickSize":-3,"labels":false,"title":null}}}},
  {"data":{"name":"r2"},"mark":{"type":"line","color":"#ff0000","strokeWidth":2},
   "encoding":{"x":{"field":"f","type":"quantitative","scale":{"type":"log","domain":[0.0001,1],"nice":false},"axis":{"orient":"bottom","values":[0.0002,0.0003,0.0004,0.0005,0.0006,0.0007,0.0008,0.0009,0.002,0.003,0.004,0.005,0.006,0.007,0.008,0.009,0.02,0.03,0.04,0.05,0.06,0.07,0.08,0.09,0.2,0.3,0.4,0.5,0.6,0.7,0.8,0.9],"tickSize":-3,"labels":false,"title":null}},
   "y":{"field":"d","type":"quantitative","scale":{"domain":[-0.76,0.74],"nice":false,"zero":false},"axis":{"orient":"right","values":[-0.7,-0.6,-0.4,-0.3,-0.2,-0.1,0.1,0.2,0.3,0.4,0.6,0.7],"tickSize":-3,"labels":false,"title":null}}}},
  {"data":{"name":"zero"},"mark":{"type":"rule","color":"#808080","strokeWidth":1.2,"strokeDash":[5,3]},
   "encoding":{"x":{"datum":0.0001,"type":"quantitative","scale":{"type":"log","domain":[0.0001,1],"nice":false},"axis":{"orient":"top","values":[0.0002,0.0003,0.0004,0.0005,0.0006,0.0007,0.0008,0.0009,0.002,0.003,0.004,0.005,0.006,0.007,0.008,0.009,0.02,0.03,0.04,0.05,0.06,0.07,0.08,0.09,0.2,0.3,0.4,0.5,0.6,0.7,0.8,0.9],"tickSize":-3,"labels":false,"title":null}},
   "x2":{"datum":1},
   "y":{"field":"v","type":"quantitative","scale":{"domain":[-0.76,0.74],"nice":false,"zero":false},"axis":null}}}
 ]},
{"width":290,"height":75,
 "resolve":{"axis":{"x":"independent","y":"independent"}},
 "layer":[
  {"data":{"name":"r3"},"mark":{"type":"area","color":"#ffa500","opacity":0.14},
   "encoding":{"x":{"field":"f","type":"quantitative","scale":{"type":"log","domain":[0.0001,1],"nice":false},"axis":{"orient":"bottom","values":[0.0001,0.001,0.01,0.1,1],"ticks":false,"labelExpr":"datum.value < 0.00015 ? '10⁻⁴' : datum.value < 0.0015 ? '10⁻³' : datum.value < 0.015 ? '10⁻²' : datum.value < 0.15 ? '10⁻¹' : '10⁰'","labelPadding":5,"title":"Frequency [days⁻¹]","titlePadding":13}},
   "y":{"field":"lo","type":"quantitative","scale":{"domain":[-0.76,0.74],"nice":false,"zero":false},"axis":{"orient":"left","values":[-0.5,0,0.5],"tickSize":-5,"labels":false,"title":null}},
   "y2":{"field":"hi"}}},
  {"data":{"name":"r3"},"mark":{"type":"line","color":"#ffa500","opacity":0.25,"strokeWidth":1},
   "encoding":{"x":{"field":"f","type":"quantitative","scale":{"type":"log","domain":[0.0001,1],"nice":false},"axis":{"orient":"bottom","values":[0.0001,0.001,0.01,0.1,1],"tickSize":-5,"labels":false,"title":null}},
   "y":{"field":"hi","type":"quantitative","scale":{"domain":[-0.76,0.74],"nice":false,"zero":false},"axis":{"orient":"right","values":[-0.5,0,0.5],"tickSize":-5,"labels":false,"title":null}}}},
  {"data":{"name":"r3"},"mark":{"type":"line","color":"#ffa500","opacity":0.25,"strokeWidth":1},
   "encoding":{"x":{"field":"f","type":"quantitative","scale":{"type":"log","domain":[0.0001,1],"nice":false},"axis":{"orient":"top","values":[0.0001,0.001,0.01,0.1,1],"tickSize":-5,"labels":false,"title":null}},
   "y":{"field":"lo","type":"quantitative","scale":{"domain":[-0.76,0.74],"nice":false,"zero":false},"axis":{"orient":"left","values":[-0.7,-0.6,-0.4,-0.3,-0.2,-0.1,0.1,0.2,0.3,0.4,0.6,0.7],"tickSize":-3,"labels":false,"title":null}}}},
  {"data":{"name":"r3"},"mark":{"type":"line","color":"#ffa500","strokeWidth":2},
   "encoding":{"x":{"field":"f","type":"quantitative","scale":{"type":"log","domain":[0.0001,1],"nice":false},"axis":{"orient":"bottom","values":[0.0002,0.0003,0.0004,0.0005,0.0006,0.0007,0.0008,0.0009,0.002,0.003,0.004,0.005,0.006,0.007,0.008,0.009,0.02,0.03,0.04,0.05,0.06,0.07,0.08,0.09,0.2,0.3,0.4,0.5,0.6,0.7,0.8,0.9],"tickSize":-3,"labels":false,"title":null}},
   "y":{"field":"d","type":"quantitative","scale":{"domain":[-0.76,0.74],"nice":false,"zero":false},"axis":{"orient":"right","values":[-0.7,-0.6,-0.4,-0.3,-0.2,-0.1,0.1,0.2,0.3,0.4,0.6,0.7],"tickSize":-3,"labels":false,"title":null}}}},
  {"data":{"name":"zero"},"mark":{"type":"rule","color":"#808080","strokeWidth":1.2,"strokeDash":[5,3]},
   "encoding":{"x":{"datum":0.0001,"type":"quantitative","scale":{"type":"log","domain":[0.0001,1],"nice":false},"axis":{"orient":"top","values":[0.0002,0.0003,0.0004,0.0005,0.0006,0.0007,0.0008,0.0009,0.002,0.003,0.004,0.005,0.006,0.007,0.008,0.009,0.02,0.03,0.04,0.05,0.06,0.07,0.08,0.09,0.2,0.3,0.4,0.5,0.6,0.7,0.8,0.9],"tickSize":-3,"labels":false,"title":null}},
   "x2":{"datum":1},
   "y":{"field":"v","type":"quantitative","scale":{"domain":[-0.76,0.74],"nice":false,"zero":false},"axis":null}}}
 ]}
],
"config": {
 "font": "Liberation Sans",
 "view": {"stroke": "black", "strokeWidth": 1},
 "axis": {"grid": false, "domain": false, "labelFont": "Liberation Sans", "labelFontSize": 12, "labelColor": "black", "titleFont": "Liberation Sans", "titleFontSize": 12, "titleFontWeight": "normal", "titleColor": "black", "tickColor": "black", "tickWidth": 1, "labelFlush": false, "labelOverlap": false},
 "legend": {"labelFont": "Liberation Sans"},
 "title": {"font": "Liberation Sans", "fontSize": 13, "fontWeight": "normal", "color": "black", "offset": 7, "frame": "group"},
 "line": {"interpolate": "monotone"},
 "area": {"interpolate": "monotone"}
}
}
